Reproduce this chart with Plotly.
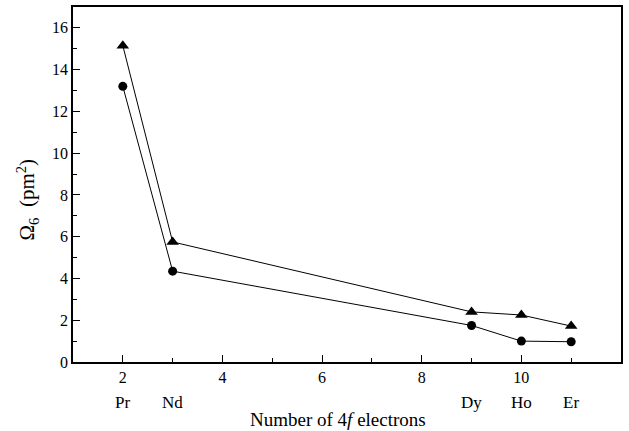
import plotly.graph_objects as go

electrons = [2, 3, 9, 10, 11]
elements = ["Pr", "Nd", "Dy", "Ho", "Er"]
omega6_triangle = [15.15, 5.75, 2.4, 2.25, 1.72]
omega6_circle = [13.2, 4.35, 1.75, 1.0, 0.97]
x_ticks = [2, 4, 6, 8, 10]
y_ticks = [0, 2, 4, 6, 8, 10, 12, 14, 16]
x_title = "Number of 4<i>f</i> electrons"
y_title = "Ω<sub>6</sub>  (pm<sup>2</sup>)"

font_family = "Liberation Serif"

fig = go.Figure()
fig.add_trace(go.Scatter(
    x=electrons, y=omega6_triangle, mode="lines+markers",
    line=dict(color="black", width=1),
    marker=dict(symbol="triangle-up", size=11, color="black"),
    showlegend=False))
fig.add_trace(go.Scatter(
    x=electrons, y=omega6_circle, mode="lines+markers",
    line=dict(color="black", width=1),
    marker=dict(symbol="circle", size=9, color="black"),
    showlegend=False))

for xv, name in zip(electrons, elements):
    fig.add_annotation(x=xv, y=0, xref="x", yref="paper", text=name,
                       showarrow=False, yshift=-40, yanchor="middle",
                       font=dict(family=font_family, size=17, color="black"))

fig.add_annotation(x=0.5, y=0, xref="paper", yref="paper", text=x_title,
                   showarrow=False, yshift=-57, xshift=-9, yanchor="middle",
                   font=dict(family=font_family, size=19, color="black"))
fig.add_annotation(x=0, y=0.5, xref="paper", yref="paper", text=y_title,
                   showarrow=False, xshift=-46, yshift=-15, xanchor="center",
                   yanchor="middle", textangle=-90,
                   font=dict(family=font_family, size=21, color="black"))

fig.update_layout(
    width=629, height=431,
    margin=dict(l=73, r=8, t=7, b=69),
    paper_bgcolor="white", plot_bgcolor="white",
    font=dict(family=font_family, size=16, color="black"),
    xaxis=dict(range=[1, 12], tickvals=x_ticks, ticks="inside", ticklen=7,
               tickwidth=1, tickcolor="black", automargin=False,
               tickfont=dict(family=font_family, size=16, color="black"),
               minor=dict(tickvals=[3, 5, 7, 9, 11], ticks="inside", ticklen=4,
                          tickcolor="black"),
               showline=True, linecolor="black", linewidth=1.5, mirror=True,
               showgrid=False, zeroline=False),
    yaxis=dict(range=[0, 17], tickvals=y_ticks, ticks="inside", ticklen=7,
               tickwidth=1, tickcolor="black", automargin=False,
               tickfont=dict(family=font_family, size=16, color="black"),
               minor=dict(tickvals=[1, 3, 5, 7, 9, 11, 13, 15], ticks="inside",
                          ticklen=4, tickcolor="black"),
               showline=True, linecolor="black", linewidth=1.5, mirror=True,
               showgrid=False, zeroline=False),
)

fig.write_html("out.html")
